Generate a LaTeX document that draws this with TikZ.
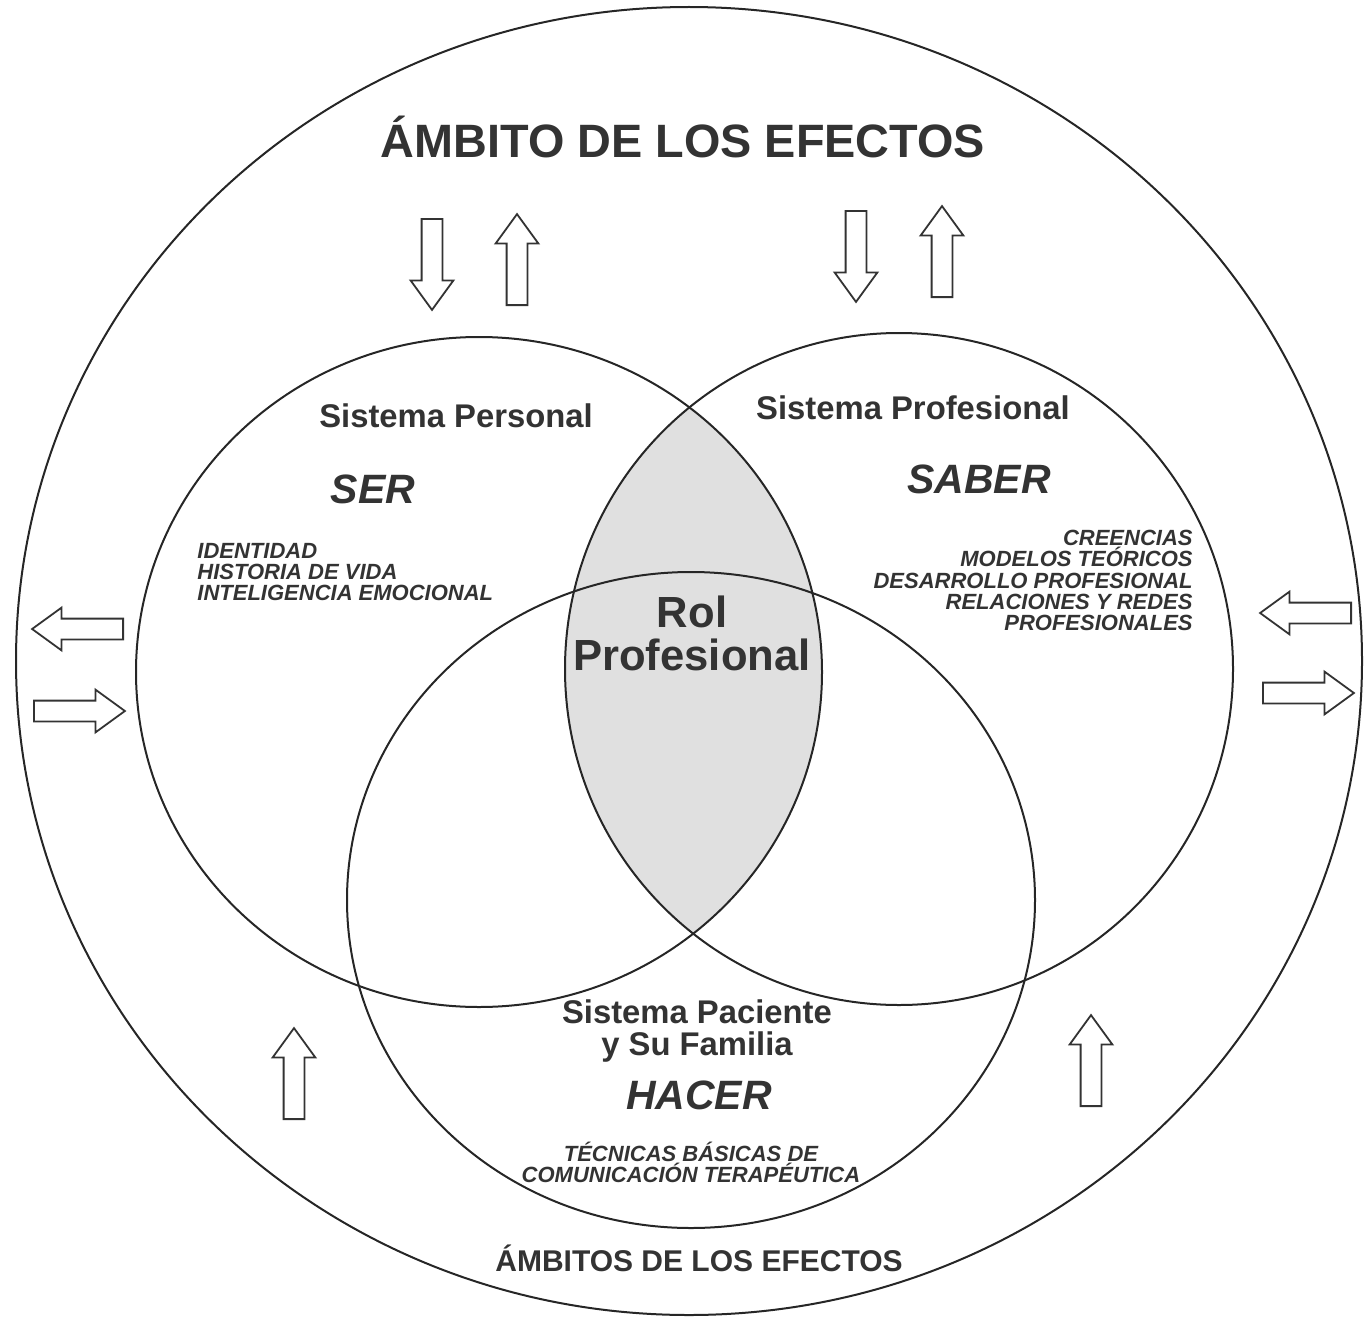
\documentclass[tikz,border=0pt]{standalone}
\usepackage{fontspec}
\setmainfont{Liberation Sans}
\usetikzlibrary{shapes.arrows}

\begin{document}
\begin{tikzpicture}[x=0.5pt, y=-0.5pt,
        sistema/.style={draw=black!85, line width=1pt},
        flecha/.style={single arrow, draw=black!80, line width=0.9pt, fill=white,
          inner xsep=0pt, inner ysep=4.75pt, single arrow head extend=5.5pt,
          single arrow tip angle=72, minimum height=45.5pt, anchor=tail},
        rotulo/.style={text=black!80, inner sep=0pt, font=\fontsize{16.4}{16}\selectfont\bfseries},
        verbo/.style={text=black!80, inner sep=0pt, font=\fontsize{20.5}{20}\selectfont\bfseries\itshape},
        lista/.style={text=black!80, inner sep=0pt, font=\fontsize{11}{10.6}\selectfont\bfseries\itshape}
      ]
    \useasboundingbox (0,0) rectangle (1370,1322);

    % circulos
    \coordinate (cAmb) at (689,661);
    \coordinate (cPer) at (479,672);
    \coordinate (cPro) at (899,669);
    \coordinate (cPac) at (691,900);

    \begin{scope}
      \clip (cPer) ellipse [x radius=343, y radius=335];
      \fill[black!12] (cPro) ellipse [x radius=334, y radius=336];
    \end{scope}

    \draw[sistema] (cAmb) ellipse [x radius=673, y radius=654];
    \draw[sistema] (cPer) ellipse [x radius=343, y radius=335];
    \draw[sistema] (cPro) ellipse [x radius=334, y radius=336];
    \draw[sistema] (cPac) ellipse [x radius=344, y radius=328];

    % flechas (colocadas por la cola)
    \node[flecha, rotate=-90] (f1) at (432,218) {};
    \node[flecha, rotate=90]  (f2) at (517,306) {};
    \node[flecha, rotate=-90] (f3) at (856,210) {};
    \node[flecha, rotate=90]  (f4) at (942,298) {};
    \node[flecha, rotate=180] (f5) at (124,629) {};
    \node[flecha]             (f6) at (33,711) {};
    \node[flecha, rotate=180] (f7) at (1352,613) {};
    \node[flecha]             (f8) at (1262,693) {};
    \node[flecha, rotate=90]  (f9) at (294,1120) {};
    \node[flecha, rotate=90]  (f10) at (1091,1107) {};

    % textos
    \node[text=black!80, font=\fontsize{23.4}{24}\selectfont\bfseries] (ambito) at (683,137) {ÁMBITO DE LOS EFECTOS};
    \node[text=black!80, font=\fontsize{15}{16}\selectfont\bfseries] (ambitos) at (699,1258) {ÁMBITOS DE LOS EFECTOS};

    \node[rotulo] (personal) at (456,416) {Sistema Personal};
    \node[verbo] (ser) at (373,489) {SER};
    \node[lista, align=left, anchor=north west] (serlista) at (197,543)
      {IDENTIDAD\\HISTORIA DE VIDA\\INTELIGENCIA EMOCIONAL};

    \node[rotulo] (profesional) at (913,408) {Sistema Profesional};
    \node[verbo] (saber) at (979,479) {SABER};
    \node[lista, align=right, anchor=north east] (saberlista) at (1193,530)
      {CREENCIAS\\MODELOS TEÓRICOS\\DESARROLLO PROFESIONAL\\RELACIONES Y REDES\\PROFESIONALES};

    \node[rotulo, align=center, font=\fontsize{21.8}{21.5}\selectfont\bfseries] (rol) at (692,633) {Rol\\Profesional};

    \node[rotulo, align=center] (paciente) at (697,1031) {Sistema Paciente\\y Su Familia};
    \node[verbo] (hacer) at (699,1095) {HACER};
    \node[lista, align=center] (hacerlista) at (691,1162)
      {TÉCNICAS BÁSICAS DE\\COMUNICACIÓN TERAPÉUTICA};

    \end{tikzpicture}
\end{document}
